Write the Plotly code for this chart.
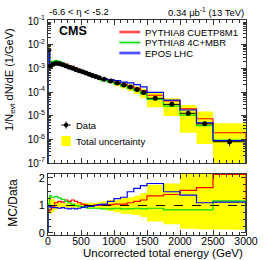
import numpy as np
import plotly.graph_objects as go

# ---------------- data ----------------
edges = [0, 25, 50, 100, 150, 200, 250, 300, 350, 400, 450, 500, 550, 600, 650,
         700, 750, 800, 900, 1000, 1100, 1200, 1300, 1400, 1500, 1750, 2000,
         2250, 2500, 3000]
data_dnde = [6.0e-3, 1.25e-3, 1.5e-3, 1.62e-3, 1.55e-3, 1.41e-3, 1.26e-3, 1.12e-3,
             1.0e-3, 8.9e-4, 7.9e-4, 7.1e-4, 6.3e-4, 5.6e-4, 5.0e-4, 4.5e-4,
             4.0e-4, 3.45e-4, 2.9e-4, 2.4e-4, 2.0e-4, 1.62e-4, 1.26e-4, 9.5e-5,
             5.4e-5, 3.0e-5, 1.26e-5, 4.5e-6, 7.9e-7]
data_stat_rel = [0.02, 0.01, 0.01, 0.01, 0.01, 0.01, 0.01, 0.01, 0.01, 0.01,
                 0.01, 0.01, 0.01, 0.01, 0.01, 0.01, 0.01, 0.01, 0.01, 0.015,
                 0.015, 0.02, 0.02, 0.02, 0.03, 0.05, 0.08, 0.15, 0.35]
unc_lo = [0.3, 0.3, 0.25, 0.15, 0.12, 0.08, 0.08, 0.08, 0.08, 0.08, 0.08, 0.08,
          0.08, 0.08, 0.1, 0.1, 0.12, 0.15, 0.2, 0.25, 0.3, 0.32, 0.35, 0.42,
          0.58, 0.68, 0.85, 0.86, 0.88]
unc_hi = [0.3, 0.3, 0.25, 0.15, 0.12, 0.08, 0.08, 0.08, 0.08, 0.08, 0.08, 0.08,
          0.08, 0.08, 0.1, 0.1, 0.12, 0.15, 0.2, 0.22, 0.28, 0.3, 0.35, 0.45,
          0.75, 0.8, 1.25, 2.3, 5.0]
ratio_cuetp8m1 = [0.8, 0.85, 0.95, 1.1, 1.15, 1.12, 1.2, 1.15, 1.2, 1.15, 1.1, 1.05,
                  1.02, 1.0, 1.0, 1.02, 1.0, 1.02, 1.03, 1.05, 1.05, 1.1, 1.15, 1.2,
                  1.35, 1.4, 1.55, 1.65, 2.4]
ratio_4cmbr = [1.05, 1.35, 1.3, 1.32, 1.28, 1.22, 1.15, 1.1, 1.05, 1.0, 0.98, 0.95,
               0.92, 0.9, 0.9, 0.9, 0.9, 0.88, 0.88, 0.9, 0.88, 0.88, 0.9, 0.88,
               0.9, 0.84, 0.84, 0.84, 1.17]
ratio_epos = [1.0, 0.95, 0.92, 0.92, 0.9, 0.92, 0.9, 0.88, 0.9, 0.88, 0.9, 0.93,
              0.95, 0.97, 0.97, 1.0, 1.03, 1.05, 1.15, 1.25, 1.3, 1.5, 1.62, 1.72,
              1.8, 1.5, 1.38, 1.1, 1.12]
model_names = ["PYTHIA8 CUETP8M1", "PYTHIA8 4C+MBR", "EPOS LHC"]
model_colors = ["#ff0000", "#00dd00", "#0000ff"]
model_bands = ["rgba(255,120,120,0.45)", "rgba(120,230,120,0.45)", "rgba(120,120,255,0.45)"]
x_ticks = [0, 500, 1000, 1500, 2000, 2500, 3000]
log_ticks = [1e-7, 1e-6, 1e-5, 1e-4, 1e-3, 1e-2, 1e-1]
log_ticktext = ["10<sup>-7</sup>", "10<sup>-6</sup>", "10<sup>-5</sup>", "10<sup>-4</sup>",
                "10<sup>-3</sup>", "10<sup>-2</sup>", "10<sup>-1</sup>"]
ratio_ticks = [0, 1, 2]

# ---------------- derived ----------------
E = np.array(edges, float)
n = len(E) - 1
centers = 0.5 * (E[:-1] + E[1:])
halfw = 0.5 * np.diff(E)
d = np.array(data_dnde)
lo = np.array(unc_lo)
hi = np.array(unc_hi)
ratios = [np.array(ratio_cuetp8m1), np.array(ratio_4cmbr), np.array(ratio_epos)]

LOG_FLOOR = 1e-9
R_TOP = 2.13


def step_xy(vals, floor):
    x = [E[0]] + list(E[:-1]) + [E[-1], E[-1]]
    y = [floor] + list(vals) + [vals[-1], floor]
    return x, y


def band_xy(low, high):
    xs, ys = [], []
    for i in range(n):
        xs += [E[i], E[i + 1]]
        ys += [high[i], high[i]]
    for i in reversed(range(n)):
        xs += [E[i + 1], E[i]]
        ys += [low[i], low[i]]
    return xs, ys


fig = go.Figure()

# main panel: uncertainty band
bx, by = band_xy(d * (1 - lo), d * (1 + hi))
fig.add_trace(go.Scatter(x=bx, y=by, fill="toself", fillcolor="#ffff00",
                         line=dict(width=0), mode="lines", xaxis="x", yaxis="y",
                         hoverinfo="skip"))
# models
for r, c in zip(ratios, model_colors):
    sx, sy = step_xy(d * r, LOG_FLOOR)
    fig.add_trace(go.Scatter(x=sx, y=sy, mode="lines", line=dict(color=c, width=1.2, shape="hv"),
                             xaxis="x", yaxis="y"))
# data
fig.add_trace(go.Scatter(x=centers, y=d, mode="markers",
                         marker=dict(color="black", size=5),
                         error_y=dict(type="data", array=d * np.array(data_stat_rel),
                                      color="black", thickness=1, width=0),
                         error_x=dict(type="data", array=halfw, color="black",
                                      thickness=1, width=0),
                         xaxis="x", yaxis="y"))

# ratio panel
rbx, rby = band_xy(1 - lo, 1 + hi)
fig.add_trace(go.Scatter(x=rbx, y=np.minimum(rby, R_TOP + 0.5), fill="toself", fillcolor="#ffff00",
                         line=dict(width=0), mode="lines", xaxis="x2", yaxis="y2",
                         hoverinfo="skip"))
for r, c in zip(ratios, model_colors):
    sx, sy = step_xy(np.minimum(r, R_TOP), 0.0)
    fig.add_trace(go.Scatter(x=sx, y=sy, mode="lines", line=dict(color=c, width=1.2, shape="hv"),
                             xaxis="x2", yaxis="y2"))

fig.add_shape(type="line", xref="x2", yref="y2", x0=E[0], x1=E[-1], y0=1, y1=1,
              line=dict(color="black", width=1, dash="dash"))

# ---------------- layout ----------------
L, R, T, B = 48, 14, 20, 25
W, H = 270, 260
PW, PH = W - L - R, H - T - B


def px(x):
    return (x - L) / PW


def py(y):
    return (H - B - y) / PH


axis_common = dict(showline=True, linecolor="#333", linewidth=1, mirror="allticks",
                   ticks="inside", ticklen=5, tickcolor="#333", showgrid=False,
                   zeroline=False, layer="above traces")

fig.update_layout(
    width=W, height=H, margin=dict(l=L, r=R, t=T, b=B),
    paper_bgcolor="white", plot_bgcolor="white", showlegend=False,
    font=dict(family="Liberation Sans, Arial, sans-serif", size=10, color="black"),
    xaxis=dict(domain=[0, 1], anchor="y", range=[0, 3000], tickvals=x_ticks,
               showticklabels=False,
               minor=dict(ticks="inside", ticklen=3, dtick=100, tick0=0, tickcolor="#333"),
               **axis_common),
    yaxis=dict(domain=[py(163), 1], anchor="x", type="log", range=[-7, np.log10(1e-1) + 1 / 23.67],
               tickvals=log_ticks, ticktext=log_ticktext, tickfont=dict(size=10),
               minor=dict(ticks="inside", ticklen=3, tickcolor="#333",
                          tickvals=[k * t for t in log_ticks[:-1] for k in range(2, 10)]),
               **axis_common),
    xaxis2=dict(domain=[0, 1], anchor="y2", range=[0, 3000], tickvals=x_ticks,
                tickfont=dict(size=10.5), ticklabelstandoff=-4,
                minor=dict(ticks="inside", ticklen=3, dtick=100, tick0=0, tickcolor="#333"),
                **axis_common),
    yaxis2=dict(domain=[0, py(174)], anchor="x2", range=[-0.073, 2.145],
                tickvals=ratio_ticks, tickfont=dict(size=11),
                minor=dict(ticks="inside", ticklen=3, dtick=0.25, tick0=0, tickcolor="#333"),
                **axis_common),
)

ann = []
ann.append(dict(text="-6.6 < η < -5.2", x=px(47), y=py(12), xanchor="left", yanchor="middle",
                font=dict(size=9.5)))
ann.append(dict(text="0.34 μb<sup>-1</sup> (13 TeV)", x=px(256), y=py(12), xanchor="right",
                yanchor="middle", font=dict(size=9.5)))
ann.append(dict(text="<b>CMS</b>", x=px(57), y=py(31), xanchor="left", yanchor="middle",
                font=dict(size=12.5)))
ann.append(dict(text="1/N<sub>evt</sub> dN/dE (1/GeV)", x=px(8), y=py(79), textangle=-90,
                xanchor="center", yanchor="middle", font=dict(size=11)))
ann.append(dict(text="MC/Data", x=px(11), y=py(203), textangle=-90,
                xanchor="center", yanchor="middle", font=dict(size=12)))
ann.append(dict(text="Uncorrected total energy (GeV)", x=px(255), y=py(253), xanchor="right",
                yanchor="middle", font=dict(size=11.5)))
# legend (top right)
leg_y = [32, 42.5, 53]
for name, c, bc, yy in zip(model_names, model_colors, model_bands, leg_y):
    fig.add_shape(type="rect", xref="paper", yref="paper", x0=px(123), x1=px(145),
                  y0=py(yy + 2), y1=py(yy - 2), fillcolor=bc, line=dict(width=0))
    fig.add_shape(type="line", xref="paper", yref="paper", x0=px(123), x1=px(145),
                  y0=py(yy), y1=py(yy), line=dict(color=c, width=1.2))
    ann.append(dict(text=name, x=px(148), y=py(yy), xanchor="left", yanchor="middle",
                    font=dict(size=9.5)))
# legend (bottom left)
fig.add_shape(type="line", xref="paper", yref="paper", x0=px(62), x1=px(72),
              y0=py(125), y1=py(125), line=dict(color="black", width=1))
fig.add_shape(type="line", xref="paper", yref="paper", x0=px(67), x1=px(67),
              y0=py(121.5), y1=py(128.5), line=dict(color="black", width=1))
fig.add_shape(type="circle", xref="paper", yref="paper", x0=px(64.8), x1=px(69.2),
              y0=py(127.2), y1=py(122.8), fillcolor="black", line=dict(color="black", width=0))
ann.append(dict(text="Data", x=px(75), y=py(125), xanchor="left", yanchor="middle",
                font=dict(size=9.5)))
fig.add_shape(type="rect", xref="paper", yref="paper", x0=px(62), x1=px(72),
              y0=py(146), y1=py(136), fillcolor="#ffff00", line=dict(width=0))
ann.append(dict(text="Total uncertainty", x=px(75), y=py(141), xanchor="left", yanchor="middle",
                font=dict(size=9.5)))

for a in ann:
    a.update(xref="paper", yref="paper", showarrow=False)
fig.update_layout(annotations=ann)

fig.write_html("out.html", config={"displayModeBar": False},
               post_script="document.body.style.margin='0px';")
